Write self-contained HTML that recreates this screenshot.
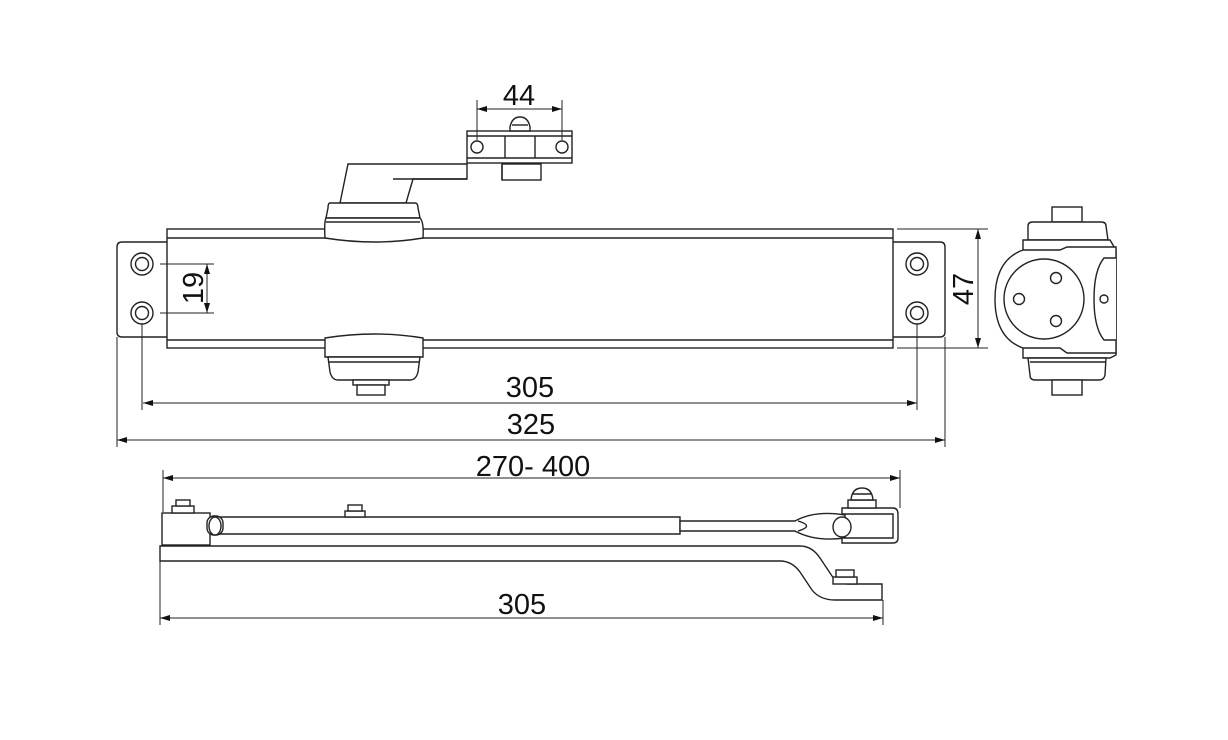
<!DOCTYPE html>
<html><head><meta charset="utf-8"><style>
html,body{margin:0;padding:0;background:#fff}
svg{display:block}
text{font-family:"Liberation Sans",sans-serif;fill:#111}
</style></head><body>
<svg width="1228" height="740" viewBox="0 0 1228 740" xmlns="http://www.w3.org/2000/svg">
<defs>
<marker id="a" viewBox="0 0 10 6" refX="10" refY="3" markerWidth="10" markerHeight="6" orient="auto-start-reverse" markerUnits="userSpaceOnUse"><path d="M0,0 L10,3 L0,6z" fill="#111"/></marker>
</defs>
<g fill="#fff" stroke="#222" stroke-width="1.4">
<!-- flanges -->
<path d="M167,242 L122,242 Q117,242 117,247 L117,332 Q117,337 122,337 L167,337"/>
<path d="M893,242 L940,242 Q945,242 945,247 L945,332 Q945,337 940,337 L893,337"/>
<!-- body -->
<rect x="167" y="229" width="726" height="119"/>
<line x1="167" y1="238" x2="893" y2="238"/>
<line x1="167" y1="340" x2="893" y2="340"/>
<!-- holes -->
<circle cx="142" cy="264" r="11"/><circle cx="142" cy="264" r="6.5"/>
<circle cx="142" cy="313" r="11"/><circle cx="142" cy="313" r="6.5"/>
<circle cx="917" cy="264" r="11"/><circle cx="917" cy="264" r="6.5"/>
<circle cx="917" cy="313" r="11"/><circle cx="917" cy="313" r="6.5"/>
<!-- arm -->
<path d="M340,203 L348,164 L467,164 L467,179 L413,179 L406,203z"/>
<line x1="393" y1="179" x2="467" y2="179"/>
<rect x="502" y="164" width="39" height="16"/>
<line x1="502" y1="164" x2="502" y2="180"/>
<!-- bracket -->
<rect x="467" y="131" width="105" height="32"/>
<line x1="467" y1="136" x2="572" y2="136"/><line x1="467" y1="158" x2="572" y2="158"/>
<line x1="505" y1="136" x2="505" y2="158"/><line x1="535" y1="136" x2="535" y2="158"/>
<circle cx="477" cy="147" r="6"/><circle cx="562" cy="147" r="6"/>
<path d="M510,131 L510,127 Q512,117 520,117 Q528,117 530,127 L530,131z"/>
<line x1="512" y1="125" x2="528" y2="125"/>
<!-- upper hub -->
<path d="M330,203 L415,203 Q418,203 418,208 L420,218 L326,218 L328,208 Q328,203 330,203z"/>
<path d="M326,218 L420,218 Q424,222 423,238 Q375,246 325,238 Q324,222 326,218z"/>
<line x1="326" y1="222" x2="420" y2="222"/>
<!-- lower hub -->
<path d="M325,338 Q375,330 423,338 L423,357 L325,357z"/>
<path d="M328,357 L420,357 L418,372 Q416,380 410,380 L338,380 Q332,380 330,372z"/>
<line x1="328" y1="362" x2="420" y2="362"/>
<rect x="353" y="380" width="36" height="5"/>
<rect x="357" y="385" width="28" height="10"/>
<!-- side view -->
<rect x="1052" y="207" width="30" height="15"/>
<path d="M1028,240 L1028,226 Q1028,222 1033,222 L1101,222 Q1106,222 1106,226 L1108,240z"/>
<path d="M1023,240 L1110,240 L1116,250 L1116,355 L1110,358 L1023,358z"/>
<path d="M1023,250 Q995,260 995,299 Q995,338 1023,348 L1060,348 L1067,353 L1116,353 L1116,247 L1067,247 L1060,250z"/>
<circle cx="1044" cy="299" r="40"/>
<circle cx="1056" cy="278" r="5.5"/><circle cx="1056" cy="321" r="5.5"/><circle cx="1019" cy="299" r="5.5"/>
<path d="M1116,258 L1104,258 Q1094,270 1094,299 Q1094,328 1104,340 L1116,340"/>
<circle cx="1104" cy="299" r="4"/>
<path d="M1028,358 L1106,358 L1105,375 Q1104,380 1099,380 L1035,380 Q1030,380 1030,375z"/>
<line x1="1030" y1="362" x2="1106" y2="362"/>
<rect x="1052" y="380" width="30" height="15"/>
<!-- lower arm -->
<path d="M160,546 L800,546 Q812,546 820,558 L832,576 Q838,584 848,584 L882,584 L882,600 L835,600 Q820,600 812,590 L800,572 Q792,561 780,561 L160,561z"/>
<rect x="833" y="577" width="24" height="7"/>
<rect x="836" y="570" width="18" height="7"/>
<rect x="162" y="513" width="48" height="32"/>
<path d="M210,517 L680,517 L680,534 L210,534"/>
<rect x="207" y="516" width="16" height="19" rx="7"/>
<ellipse cx="215" cy="526" rx="6" ry="9"/>
<rect x="172" y="506" width="22" height="7"/>
<rect x="176" y="500" width="14" height="6"/>
<rect x="345" y="511" width="20" height="6"/>
<rect x="348" y="505" width="14" height="6"/>
<path d="M680,521 L795,521 Q815,510 845,515 L845,538 Q815,542 795,531 L680,531z"/>
<path d="M798,521 Q815,526 798,531"/>
<path d="M842,508 L893,508 Q898,508 898,514 L898,538 Q898,543 893,543 L842,543 L842,538 L893,538 L893,514 L842,514z"/>
<ellipse cx="842" cy="527" rx="9" ry="10"/>
<rect x="848" y="500" width="28" height="8"/>
<path d="M851,500 Q852,488 862,488 Q872,488 873,500z"/>
<line x1="853" y1="494" x2="871" y2="494"/>
</g>
<!-- dimensions -->
<g stroke="#222" stroke-width="1" fill="none">
<line x1="477" y1="100" x2="477" y2="140"/><line x1="562" y1="100" x2="562" y2="140"/>
<line x1="477" y1="109" x2="562" y2="109" marker-start="url(#a)" marker-end="url(#a)"/>
<line x1="160" y1="264" x2="214" y2="264"/><line x1="160" y1="313" x2="214" y2="313"/>
<line x1="207" y1="264" x2="207" y2="313" marker-start="url(#a)" marker-end="url(#a)"/>
<line x1="897" y1="229" x2="988" y2="229"/><line x1="897" y1="348" x2="988" y2="348"/>
<line x1="978" y1="229" x2="978" y2="348" marker-start="url(#a)" marker-end="url(#a)"/>
<line x1="142" y1="324" x2="142" y2="410"/><line x1="917" y1="324" x2="917" y2="410"/>
<line x1="143" y1="403" x2="917" y2="403" marker-start="url(#a)" marker-end="url(#a)"/>
<line x1="117" y1="337" x2="117" y2="447"/><line x1="945" y1="337" x2="945" y2="447"/>
<line x1="117" y1="440" x2="945" y2="440" marker-start="url(#a)" marker-end="url(#a)"/>
<line x1="163" y1="470" x2="163" y2="512"/><line x1="900" y1="470" x2="900" y2="508"/>
<line x1="163" y1="478" x2="900" y2="478" marker-start="url(#a)" marker-end="url(#a)"/>
<line x1="160" y1="561" x2="160" y2="625"/><line x1="883" y1="600" x2="883" y2="625"/>
<line x1="160" y1="618" x2="883" y2="618" marker-start="url(#a)" marker-end="url(#a)"/>
</g>
<g font-size="29" text-anchor="middle">
<text x="519" y="105">44</text>
<text x="530" y="397">305</text>
<text x="531" y="434">325</text>
<text x="533" y="476">270- 400</text>
<text x="522" y="614">305</text>
<text transform="translate(203,288) rotate(-90)">19</text>
<text transform="translate(973,289) rotate(-90)">47</text>
</g>
</svg>
</body></html>
